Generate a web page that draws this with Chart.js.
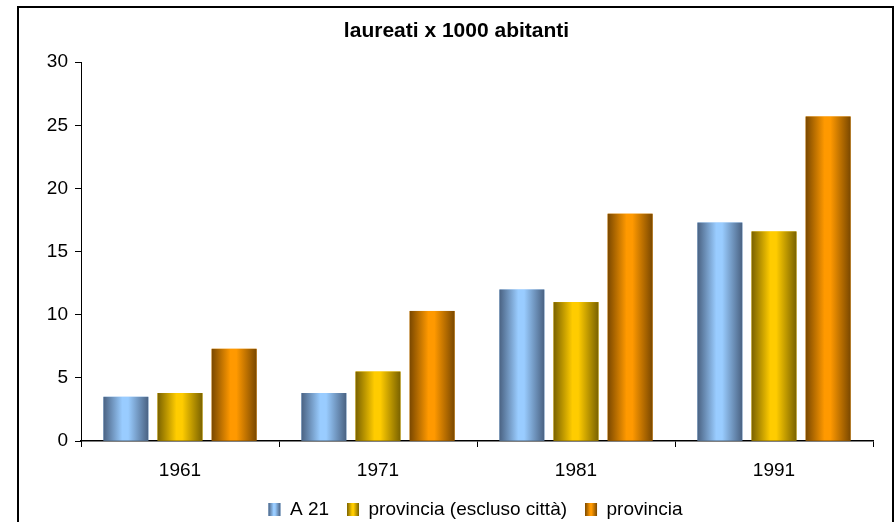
<!DOCTYPE html>
<html>
<head>
<meta charset="utf-8">
<script src="https://cdn.jsdelivr.net/npm/chart.js@4.4.1/dist/chart.umd.min.js"></script>
<style>
  html, body { margin:0; padding:0; background:#fff; }
  #wrap { position:relative; width:896px; height:522px; }
  #frame { position:absolute; left:17px; top:6px; width:877px; height:530px; border:2px solid #000; box-sizing:border-box; pointer-events:none; }
</style>
</head>
<body>
<div id="wrap">
  <canvas id="c" width="896" height="522"></canvas>
  <div id="frame"></div>
</div>
<script>
const YEARS = ["1961", "1971", "1981", "1991"];
const A21 = [3.5, 3.8, 12.0, 17.3];
const PROV_ESCL = [3.8, 5.5, 11.0, 16.6];
const PROV = [7.3, 10.3, 18.0, 25.7];
const Y_TICKS = [0, 5, 10, 15, 20, 25, 30];

// edge / centre colours for the "cylinder" look
const SHADES = [
  { edge:"#4a6282", mid:"#99ccff" },
  { edge:"#7a6200", mid:"#ffcc00" },
  { edge:"#7a4800", mid:"#ff9900" }
];

const FONT = "'Liberation Sans', Arial, sans-serif";
const LEGEND_SHIFT = 19;

function shade(ctx, x0, x1, s){
  const g = ctx.createLinearGradient(x0, 0, x1, 0);
  g.addColorStop(0, s.edge);
  g.addColorStop(0.42, s.mid);
  g.addColorStop(0.55, s.mid);
  g.addColorStop(1, s.edge);
  return g;
}

// repaint bars with a horizontal gradient, using the elements' own geometry
const cylinder = {
  id:"cylinder",
  afterLayout(chart){
    // legend sits centred under the plot, not under the whole box
    chart.legend.left += LEGEND_SHIFT;
    chart.legend.right += LEGEND_SHIFT;
  },
  afterDatasetsDraw(chart){
    const ctx = chart.ctx;
    chart.data.datasets.forEach((ds, i) => {
      const meta = chart.getDatasetMeta(i);
      meta.data.forEach(el => {
        const x0 = el.x - el.width/2, x1 = el.x + el.width/2;
        ctx.save();
        ctx.fillStyle = shade(ctx, x0, x1, SHADES[i]);
        ctx.fillRect(x0, el.y, el.width, el.base - el.y);
        ctx.restore();
      });
    });
  },
  afterDraw(chart){
    const ctx = chart.ctx;
    chart.legend.legendHitBoxes.forEach((b, i) => {
      ctx.save();
      ctx.fillStyle = shade(ctx, b.left, b.left + 12, SHADES[i]);
      ctx.fillRect(b.left, b.top + 3, 12, 13);
      ctx.restore();
    });
  }
};

const mk = (label, data, i) => ({
  label, data,
  backgroundColor: SHADES[i].mid,
  borderWidth: 0,
  categoryPercentage: 0.82,
  barPercentage: 0.83
});

new Chart(document.getElementById("c").getContext("2d"), {
  type:"bar",
  data:{
    labels: YEARS,
    datasets:[
      mk("A 21", A21, 0),
      mk("provincia (escluso città)", PROV_ESCL, 1),
      mk("provincia", PROV, 2)
    ]
  },
  options:{
    responsive:false,
    animation:false,
    layout:{ padding:{ left:40, right:23, top:7, bottom:-7 } },
    plugins:{
      title:{
        display:true,
        text:"laureati x 1000 abitanti",
        color:"#000",
        font:{ family:FONT, size:21, weight:"bold" },
        padding:{ top:12, bottom:18 }
      },
      legend:{
        position:"bottom",
        labels:{
          color:"#000",
          font:{ family:FONT, size:19 },
          boxWidth:12, boxHeight:13,
          padding:18
        }
      },
      tooltip:{ enabled:false }
    },
    scales:{
      x:{
        grid:{ display:true, drawOnChartArea:false, color:"#000", tickLength:6, offset:true },
        border:{ color:"#000", width:1.5 },
        ticks:{ color:"#000", font:{ family:FONT, size:19 }, padding:12 },
        afterFit(s){ s.height = 41; }
      },
      y:{
        min:0, max:30,
        afterBuildTicks(s){ s.ticks = Y_TICKS.map(v => ({ value:v })); },
        grid:{ display:true, drawOnChartArea:false, color:"#000", tickLength:6 },
        border:{ color:"#000", width:1 },
        ticks:{ color:"#000", font:{ family:FONT, size:19 }, padding:7 },
        afterFit(s){ s.width = 41; }
      }
    }
  },
  plugins:[cylinder]
});
</script>
</body>
</html>
